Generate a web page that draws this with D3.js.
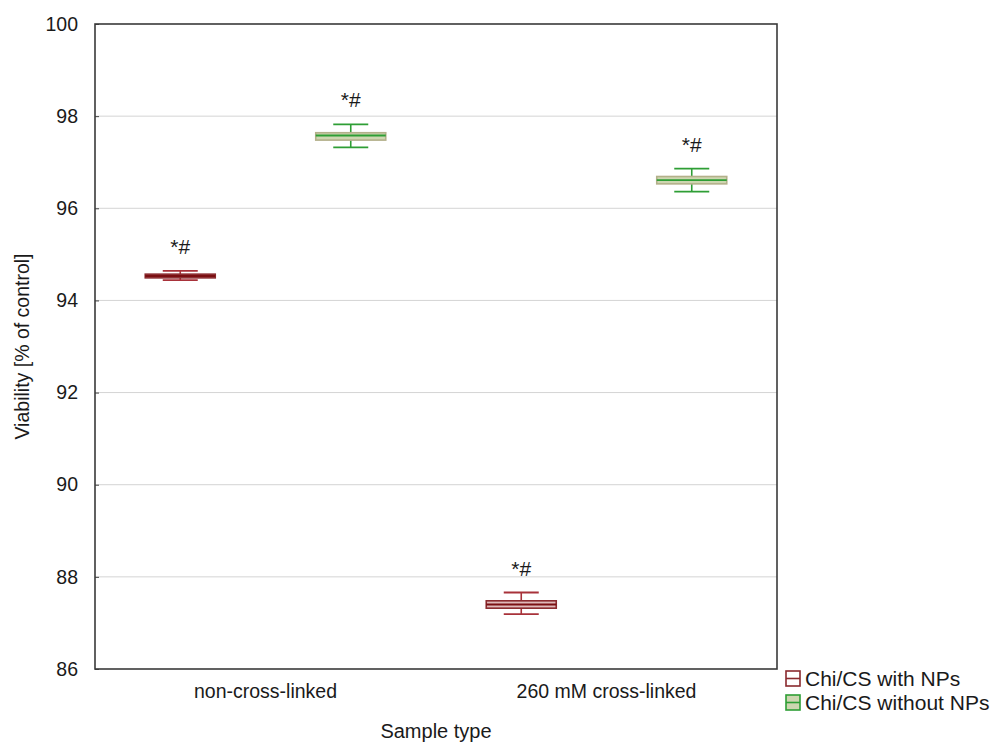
<!DOCTYPE html>
<html>
<head>
<meta charset="utf-8">
<script src="https://cdn.jsdelivr.net/npm/d3@7"></script>
<style>
  body { margin: 0; background: #fff; }
  text { font-family: "Liberation Sans", Arial, sans-serif; fill: #1a1a1a; }
</style>
</head>
<body>
<svg id="chart" width="995" height="744"></svg>
<script>
// Sample categories and series
const categories = ["non-cross-linked", "260 mM cross-linked"];
const seriesNames = ["Chi/CS with NPs", "Chi/CS without NPs"];

// Per series, values in category order: center, box low/high, whisker low/high
const withNPsMid = [94.53, 87.40];
const withNPsBoxLow = [94.49, 87.32];
const withNPsBoxHigh = [94.57, 87.48];
const withNPsWhiskLow = [94.44, 87.19];
const withNPsWhiskHigh = [94.64, 87.66];

const withoutNPsMid = [97.58, 96.61];
const withoutNPsBoxLow = [97.48, 96.53];
const withoutNPsBoxHigh = [97.64, 96.69];
const withoutNPsWhiskLow = [97.32, 96.36];
const withoutNPsWhiskHigh = [97.82, 96.86];

const significance = ["*#", "*#"];
const yTicks = [86, 88, 90, 92, 94, 96, 98, 100];

const styles = [
  { stroke: "#8a2a2e", fill: "#dfb9b9", line: "#7a0f12", whisker: "#a8323a" },
  { stroke: "#b3b08a", fill: "#cdd6b0", line: "#2e9e35", whisker: "#2e9e35" }
];

const series = [
  { name: seriesNames[0], mid: withNPsMid, bl: withNPsBoxLow, bh: withNPsBoxHigh, wl: withNPsWhiskLow, wh: withNPsWhiskHigh },
  { name: seriesNames[1], mid: withoutNPsMid, bl: withoutNPsBoxLow, bh: withoutNPsBoxHigh, wl: withoutNPsWhiskLow, wh: withoutNPsWhiskHigh }
];

const FONT = "'Liberation Sans', Arial, sans-serif";
const svg = d3.select("#chart");
const margin = { left: 95, top: 24, right: 218, bottom: 75 };
const W = 995, H = 744;
const x0 = margin.left, x1 = W - margin.right, y0 = H - margin.bottom, y1 = margin.top;

const x = d3.scaleBand().domain(categories).range([x0, x1]).padding(0);
const xs = d3.scaleBand().domain([0, 1]).range([0, x.bandwidth()]).padding(0);
const y = d3.scaleLinear().domain([86, 100]).range([y0, y1]);

// Horizontal grid
svg.append("g").selectAll("line").data(yTicks.filter(t => t > 86 && t < 100)).join("line")
  .attr("x1", x0).attr("x2", x1)
  .attr("y1", d => y(d)).attr("y2", d => y(d))
  .attr("stroke", "#d4d4d4").attr("stroke-width", 1);

// Y axis
const yAxis = svg.append("g").attr("transform", `translate(${x0},0)`)
  .call(d3.axisLeft(y).tickValues(yTicks).tickSize(4).tickPadding(13));
yAxis.select(".domain").remove();
yAxis.selectAll(".tick line").attr("stroke", "#444").attr("x2", 4);
yAxis.selectAll(".tick text").style("font-size", "19.5px").attr("fill", "#1a1a1a")
  .style("font-family", FONT);

// X axis labels
const xAxis = svg.append("g").attr("transform", `translate(0,${y0})`)
  .call(d3.axisBottom(x).tickSize(0).tickPadding(15));
xAxis.select(".domain").remove();
xAxis.selectAll(".tick text").style("font-size", "19.5px").attr("fill", "#1a1a1a")
  .style("font-family", FONT);

// Frame
svg.append("rect").attr("x", x0).attr("y", y1).attr("width", x1 - x0).attr("height", y0 - y1)
  .attr("fill", "none").attr("stroke", "#3a3a3a").attr("stroke-width", 1.6);

// Boxes and whiskers
const boxW = 70, capW = 35;
series.forEach((s, si) => {
  const st = styles[si];
  const g = svg.append("g");
  categories.forEach((c, ci) => {
    const cx = x(c) + xs(si) + xs.bandwidth() / 2;
    // whiskers
    g.append("line").attr("x1", cx).attr("x2", cx).attr("y1", y(s.wh[ci])).attr("y2", y(s.bh[ci]))
      .attr("stroke", st.whisker).attr("stroke-width", 1.6);
    g.append("line").attr("x1", cx).attr("x2", cx).attr("y1", y(s.bl[ci])).attr("y2", y(s.wl[ci]))
      .attr("stroke", st.whisker).attr("stroke-width", 1.6);
    [s.wh[ci], s.wl[ci]].forEach(v => {
      g.append("line").attr("x1", cx - capW / 2).attr("x2", cx + capW / 2)
        .attr("y1", y(v)).attr("y2", y(v))
        .attr("stroke", st.whisker).attr("stroke-width", 1.8);
    });
    // box
    g.append("rect").attr("x", cx - boxW / 2).attr("y", y(s.bh[ci]))
      .attr("width", boxW).attr("height", y(s.bl[ci]) - y(s.bh[ci]))
      .attr("fill", st.fill).attr("stroke", st.stroke).attr("stroke-width", 1.6);
    g.append("line").attr("x1", cx - boxW / 2).attr("x2", cx + boxW / 2)
      .attr("y1", y(s.mid[ci])).attr("y2", y(s.mid[ci]))
      .attr("stroke", st.line).attr("stroke-width", 1.8);
    // significance mark
    g.append("text").attr("x", cx).attr("y", y(s.wh[ci]) - 17)
      .attr("text-anchor", "middle").style("font-size", "21px").text(significance[si]);
  });
});

// Axis titles
svg.append("text").attr("x", (x0 + x1) / 2).attr("y", 738).attr("text-anchor", "middle")
  .style("font-size", "20px").text("Sample type");
svg.append("text").attr("transform", `translate(29,${(y0 + y1) / 2}) rotate(-90)`)
  .attr("text-anchor", "middle").style("font-size", "19.5px").text("Viability [% of control]");

// Legend
const leg = svg.append("g").attr("transform", "translate(786,671)");
series.forEach((s, i) => {
  const st = styles[i];
  const row = leg.append("g").attr("transform", `translate(0,${i * 24})`);
  row.append("rect").attr("x", 0).attr("y", 0).attr("width", 14).attr("height", 15)
    .attr("fill", i === 0 ? "#fff" : st.fill).attr("stroke", i === 0 ? st.stroke : st.line)
    .attr("stroke-width", 1.6);
  row.append("line").attr("x1", 0).attr("x2", 14).attr("y1", 7.5).attr("y2", 7.5)
    .attr("stroke", i === 0 ? st.stroke : st.line).attr("stroke-width", 1.6);
  row.append("text").attr("x", 19).attr("y", 15).style("font-size", "21px").text(s.name);
});
</script>
</body>
</html>
